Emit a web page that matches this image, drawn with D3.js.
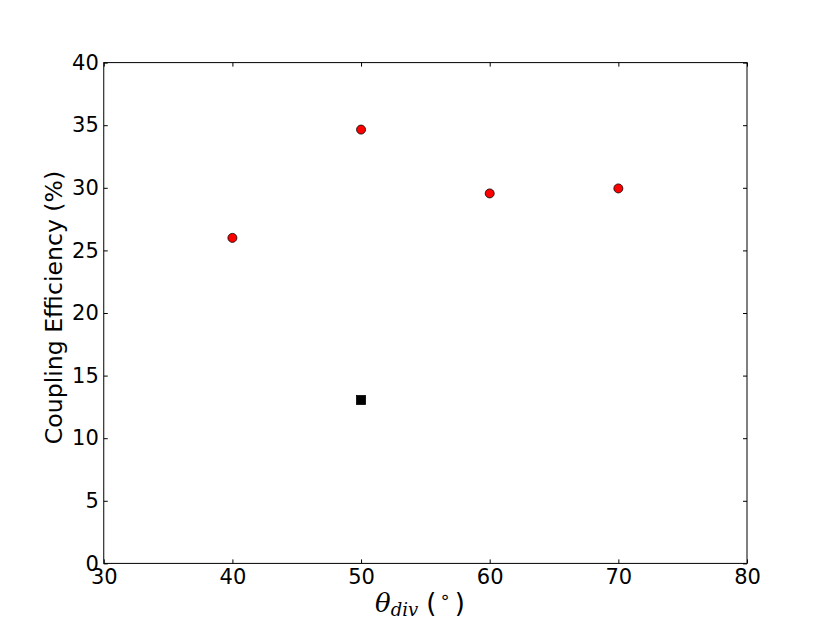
<!DOCTYPE html>
<html><head><meta charset="utf-8">
<script src="https://cdn.jsdelivr.net/npm/d3@7"></script>
<style>body{margin:0;background:#fff}svg{display:block}</style>
</head><body>
<script>
const circleX = [40, 50, 60, 70];
const circleY = [26.0, 34.65, 29.55, 29.95];
const squareX = [50];
const squareY = [13.05];
const xTicks = [30, 40, 50, 60, 70, 80];
const yTicks = [0, 5, 10, 15, 20, 25, 30, 35, 40];

const W = 830, H = 626;
const L = 103.75, R = 747, T = 62.6, B = 563.4;
const svg = d3.select("body").append("svg").attr("width", W).attr("height", H);
const x = d3.scaleLinear().domain([30, 80]).range([L, R]);
const y = d3.scaleLinear().domain([0, 40]).range([B, T]);
const font = "DejaVu Sans";

const axB = svg.append("g").attr("transform", `translate(0,${B})`)
  .call(d3.axisBottom(x).tickValues(xTicks).tickSize(-4).tickPadding(6).tickFormat(d3.format("d")));
const axT = svg.append("g").attr("transform", `translate(0,${T})`)
  .call(d3.axisTop(x).tickValues(xTicks).tickSize(-4).tickFormat(""));
const axL = svg.append("g").attr("transform", `translate(${L},0)`)
  .call(d3.axisLeft(y).tickValues(yTicks).tickSize(-4).tickPadding(5).tickFormat(d3.format("d")));
const axRt = svg.append("g").attr("transform", `translate(${R},0)`)
  .call(d3.axisRight(y).tickValues(yTicks).tickSize(-4).tickFormat(""));
[axB, axT, axL, axRt].forEach(g => {
  g.select(".domain").remove();
  g.selectAll(".tick line").attr("stroke", "#000").attr("stroke-width", 1);
  g.selectAll("text").attr("font-family", font).attr("font-size", 21).attr("fill", "#000");
});
axB.selectAll("text").attr("dy", "0.71em");
svg.append("rect").attr("x", L).attr("y", T).attr("width", R - L).attr("height", B - T)
  .attr("fill", "none").attr("stroke", "#000").attr("stroke-width", 1);

svg.append("g").selectAll("circle").data(circleX).join("circle")
  .attr("cx", (d) => x(d)).attr("cy", (d, i) => y(circleY[i])).attr("r", 4.5)
  .attr("fill", "#ff0000").attr("stroke", "#000").attr("stroke-width", 0.8);
svg.append("g").selectAll("rect").data(squareX).join("rect")
  .attr("x", (d) => x(d) - 4.5).attr("y", (d, i) => y(squareY[i]) - 4.5)
  .attr("width", 9).attr("height", 9)
  .attr("fill", "#000").attr("stroke", "#000").attr("stroke-width", 0.8);

// y label
svg.append("text").attr("transform", `translate(62,307.5) rotate(-90)`)
  .attr("text-anchor", "middle").attr("font-family", font).attr("font-size", 23.6)
  .text("Coupling Efficiency (%)");
// x label
const xl = svg.append("text").attr("x", 375).attr("y", 612)
  .attr("text-anchor", "start").attr("font-family", font).attr("font-size", 26);
xl.append("tspan").attr("font-family", "DejaVu Serif").attr("font-style", "italic").text("θ");
xl.append("tspan").attr("font-family", "DejaVu Serif").attr("font-style", "italic")
  .attr("font-size", 18).attr("dy", 4).text("div");
xl.append("tspan").attr("dy", -4).text(" (");
xl.append("tspan").attr("font-size", 18).attr("dy", -9).attr("dx", 3).text("∘");
xl.append("tspan").attr("dy", 9).attr("dx", 4).text(")");
</script>
</body></html>
